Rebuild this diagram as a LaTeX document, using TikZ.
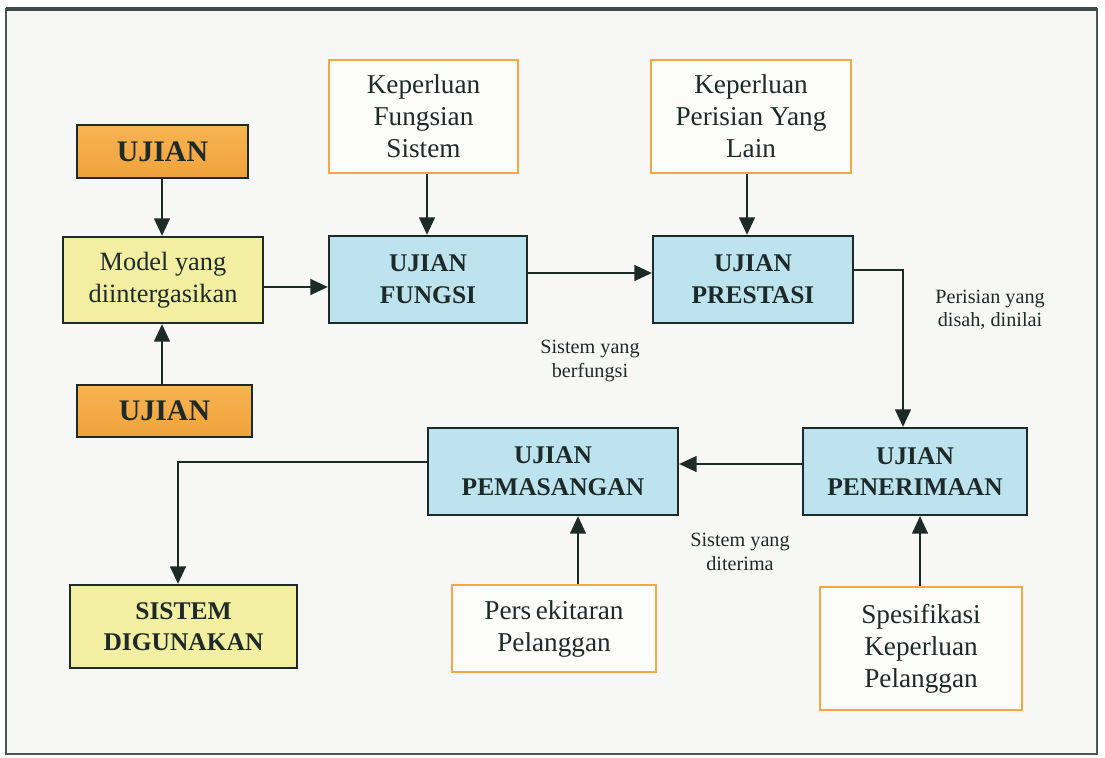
\documentclass[tikz,border=0pt]{standalone}
\usepackage{fontspec}
\setmainfont{Liberation Serif}
\usetikzlibrary{arrows.meta,positioning}

\definecolor{ink}{HTML}{1E2A28}
\definecolor{paper}{HTML}{F7F7F5}
\definecolor{testorange}{HTML}{F0A23C}
\definecolor{testorangelt}{HTML}{F6B452}
\definecolor{modelyellow}{HTML}{F2EEA2}
\definecolor{stepblue}{HTML}{BCE3EE}
\definecolor{reqorange}{HTML}{F4A743}

\tikzset{
  every node/.style={text=ink, align=center, inner sep=0pt},
  boxline/.style={draw=ink, line width=1.3pt},
  testbox/.style={boxline, top color=testorangelt, bottom color=testorange,
    font=\fontsize{17}{19}\selectfont\bfseries},
  modelbox/.style={boxline, fill=modelyellow, font=\fontsize{15}{18}\selectfont},
  stagebox/.style={boxline, fill=stepblue, font=\fontsize{14.5}{18}\selectfont\bfseries},
  reqbox/.style={draw=reqorange, line width=1.3pt, fill=white!60!paper,
    font=\fontsize{15.5}{18.2}\selectfont},
  note/.style={font=\fontsize{11.5}{13.5}\selectfont},
  arr/.style={draw=ink, line width=1.2pt, -{Triangle[length=10pt,width=9pt]}},
}

\begin{document}
\begin{tikzpicture}[x=0.02cm, y=-0.02cm]
  \useasboundingbox (0,0) rectangle (1105,757);
  % page and frame
  \fill[white] (0,0) rectangle (1105,757);
  \filldraw[fill=paper, draw=ink!80, line width=1.2pt] (6,9) rectangle (1097,754);
  \draw[ink!85, line width=1.8pt] (6,9) -- (1097,9);

  % left column: tests feeding the integrated model
  \node[testbox, minimum width=3.42cm, minimum height=1.06cm] (ujtop) at (162.5,151.5) {UJIAN};
  \node[modelbox, minimum width=4.0cm, minimum height=1.72cm] (model) at (163,280) {Model yang\\diintergasikan};
  \node[testbox, minimum width=3.5cm, minimum height=1.04cm] (ujbot) at (164.5,411) {UJIAN};

  % requirement inputs, top row
  \node[reqbox, minimum width=3.78cm, minimum height=2.26cm] (kfs) at (423.5,116.5) {Keperluan\\Fungsian\\Sistem};
  \node[reqbox, minimum width=4.0cm, minimum height=2.26cm] (kpl) at (751,116.5) {Keperluan\\Perisian Yang\\Lain};

  % test stages
  \node[stagebox, minimum width=3.96cm, minimum height=1.74cm] (fungsi) at (428,279.5) {UJIAN\\FUNGSI};
  \node[stagebox, minimum width=4.0cm, minimum height=1.74cm] (prestasi) at (753,279.5) {UJIAN\\PRESTASI};
  \node[stagebox, minimum width=4.48cm, minimum height=1.74cm] (penerimaan) at (915,471.5) {UJIAN\\PENERIMAAN};
  \node[stagebox, minimum width=5.0cm, minimum height=1.74cm] (pemasangan) at (553,471.5) {UJIAN\\PEMASANGAN};

  % bottom row
  \node[modelbox, font=\fontsize{14.5}{18}\selectfont\bfseries, minimum width=4.54cm, minimum height=1.66cm] (sistem) at (183.5,626.5) {SISTEM\\DIGUNAKAN};
  \node[reqbox, minimum width=4.08cm, minimum height=1.74cm] (persek) at (554,628.5) {Pers\,ekitaran\\Pelanggan};
  \node[reqbox, minimum width=4.04cm, minimum height=2.46cm] (spes) at (921,648.5) {Spesifikasi\\Keperluan\\Pelanggan};

  % flow labels
  \node[note] (lblfungsi) at (590,361) {Sistem yang\\berfungsi};
  \node[note] (lblsah) at (990,310) {Perisian yang\\disah, dinilai};
  \node[note] (lblterima) at (740,552) {Sistem yang\\diterima};

  % reference lines for connector positions
  \coordinate (xl) at (162,0);
  \coordinate (y1) at (0,287);
  \coordinate (xk1) at (427,0);
  \coordinate (y2) at (0,273);
  \coordinate (xk2) at (747,0);
  \coordinate (y3) at (0,270);
  \coordinate (xd) at (903,0);
  \coordinate (y4) at (0,464);
  \coordinate (y5) at (0,462);
  \coordinate (xs) at (178,0);
  \coordinate (xp) at (578,0);
  \coordinate (xq) at (920,0);

  % connectors
  \draw[arr] (ujtop.south -| xl) -- (model.north -| xl);
  \draw[arr] (ujbot.north -| xl) -- (model.south -| xl);
  \draw[arr] (model.east |- y1) -- (fungsi.west |- y1);
  \draw[arr] (kfs.south -| xk1) -- (fungsi.north -| xk1);
  \draw[arr] (fungsi.east |- y2) -- (prestasi.west |- y2);
  \draw[arr] (kpl.south -| xk2) -- (prestasi.north -| xk2);
  \draw[arr] (prestasi.east |- y3) -| (penerimaan.north -| xd);
  \draw[arr] (penerimaan.west |- y4) -- (pemasangan.east |- y4);
  \draw[arr] (pemasangan.west |- y5) -| (sistem.north -| xs);
  \draw[arr] (persek.north -| xp) -- (pemasangan.south -| xp);
  \draw[arr] (spes.north -| xq) -- (penerimaan.south -| xq);
\end{tikzpicture}
\end{document}
